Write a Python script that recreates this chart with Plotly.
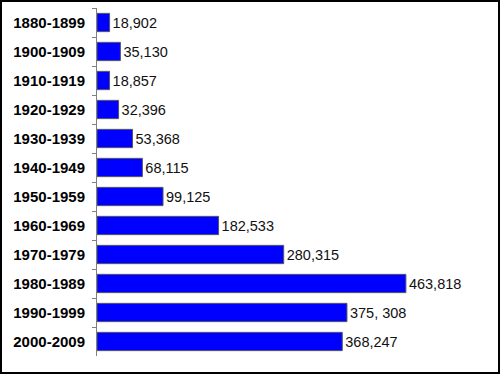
import plotly.graph_objects as go

categories = ["1880-1899", "1900-1909", "1910-1919", "1920-1929", "1930-1939",
              "1940-1949", "1950-1959", "1960-1969", "1970-1979", "1980-1989",
              "1990-1999", "2000-2009"]
values = [18902, 35130, 18857, 32396, 53368, 68115, 99125, 182533, 280315,
          463818, 375308, 368247]
value_labels = ["18,902", "35,130", "18,857", "32,396", "53,368", "68,115",
                "99,125", "182,533", "280,315", "463,818", "375, 308", "368,247"]

W, H = 500, 374
L, R, T, B = 97, 70, 8, 18
pw, ph = W - L - R, H - T - B

fig = go.Figure(go.Bar(
    x=values, y=categories, orientation="h",
    marker=dict(color="#0000FF", line=dict(color="#555566", width=1)),
    text=value_labels, textposition="outside", cliponaxis=False,
    textfont=dict(family="Liberation Sans, Arial", size=14.5, color="#111111"),
    width=0.63, hoverinfo="skip",
))

fig.update_layout(
    width=W, height=H,
    margin=dict(l=L, r=R, t=T, b=B, pad=0, autoexpand=False),
    paper_bgcolor="white", plot_bgcolor="white",
    showlegend=False,
    xaxis=dict(range=[0, 500000], visible=False, fixedrange=True, automargin=False),
    yaxis=dict(autorange="reversed", showline=True, linecolor="#808080", linewidth=1,
               automargin=False, fixedrange=True,
               ticks="outside", tickson="boundaries", ticklen=4, tickcolor="#808080",
               tickfont=dict(family="Liberation Sans, Arial", size=15, color="black",
                             weight="bold"),
               ticklabelstandoff=8, showgrid=False),
    shapes=[dict(type="rect", xref="paper", yref="paper",
                 x0=(1 - L) / pw, x1=(W - 1 - L) / pw,
                 y0=(T + ph - (H - 1)) / ph, y1=(T + ph - 1) / ph,
                 line=dict(color="black", width=2), fillcolor="rgba(0,0,0,0)",
                 layer="above")],
)

fig.write_html("out.html", config={"displayModeBar": False},
               post_script="document.body.style.margin='0px';")
